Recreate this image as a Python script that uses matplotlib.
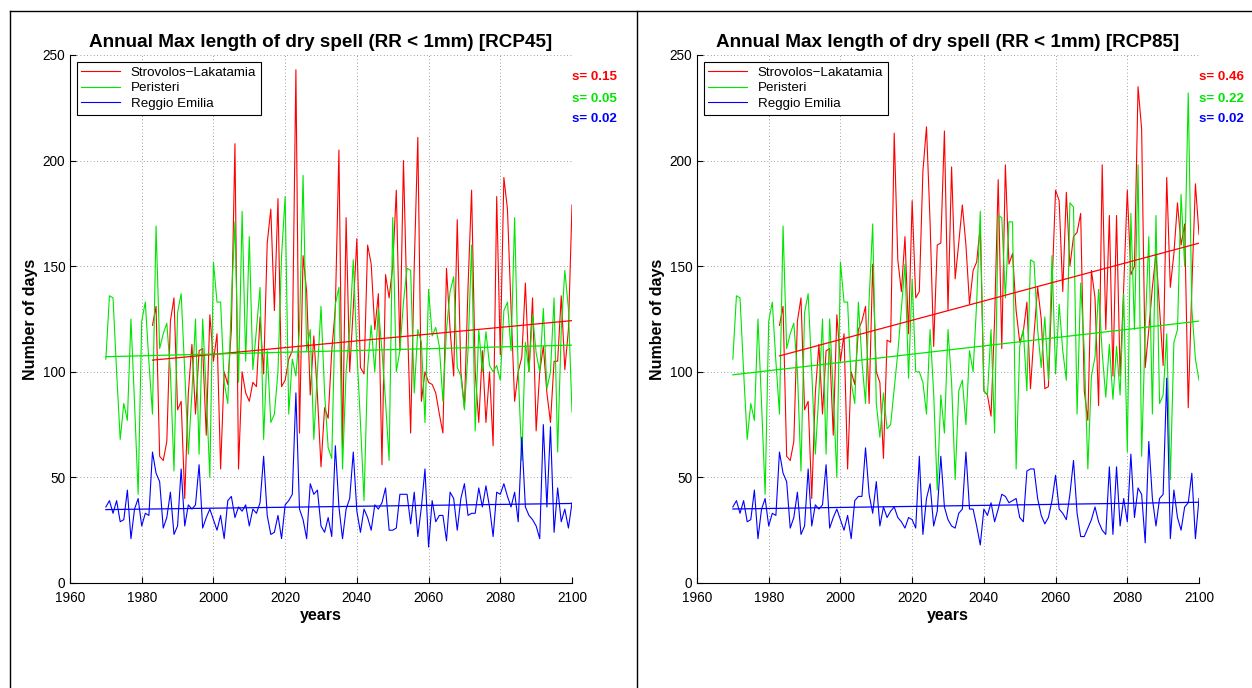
import numpy as np
import matplotlib
matplotlib.use("Agg")
import matplotlib.pyplot as plt
from matplotlib.lines import Line2D

plt.rcParams['font.family'] = ['Liberation Sans', 'DejaVu Sans']

# years
years_hist = np.arange(1970, 2006)
years_fut = np.arange(2006, 2101)
red_start = 1983

# observed/historical part (same in both scenarios)
red_hist = [122, 131, 60, 58, 67, 124, 135, 82, 86, 40,
            90, 113, 80, 110, 111, 70, 127, 105, 118, 54,
            100, 94, 120]
green_hist = [106, 136, 135, 100, 68, 85, 77, 125, 85, 42,
              124, 133, 105, 80, 169, 111, 118, 123, 100, 53,
              128, 137, 100, 61, 90, 125, 61, 125, 90, 50,
              152, 133, 133, 95, 85, 133]
blue_hist = [36, 39, 33, 39, 29, 30, 44, 21, 35, 40,
             27, 33, 32, 62, 52, 48, 26, 31, 43, 23,
             27, 54, 27, 37, 35, 37, 56, 26, 31, 35,
             30, 25, 32, 21, 39, 41]

# RCP45 2006-2100
red45 = [208, 54, 100, 90, 86, 95, 93, 126, 99, 161,
         177, 129, 182, 93, 96, 106, 110, 243, 71, 155,
         138, 89, 117, 89, 55, 83, 78, 110, 130, 205,
         64, 173, 100, 130, 163, 102, 99, 160, 151, 120,
         137, 56, 146, 135, 150, 186, 110, 200, 130, 71,
         150, 211, 86, 100, 95, 94, 90, 80, 71, 149,
         120, 98, 172, 100, 83, 140, 186, 100, 76, 110,
         76, 100, 65, 183, 108, 192, 177, 130, 86, 100,
         107, 142, 100, 135, 72, 100, 112, 90, 76, 105,
         105, 136, 101, 120, 179]
green45 = [171, 95, 176, 105, 164, 101, 120, 140, 68, 110,
           76, 80, 100, 155, 183, 80, 106, 98, 120, 193,
           110, 120, 68, 100, 131, 90, 64, 59, 132, 140,
           54, 100, 120, 153, 110, 76, 39, 102, 122, 100,
           130, 110, 86, 58, 173, 100, 110, 133, 149, 148,
           90, 120, 114, 76, 139, 117, 121, 112, 86, 120,
           138, 145, 102, 98, 82, 110, 160, 72, 120, 100,
           119, 103, 100, 103, 96, 129, 133, 110, 173, 100,
           58, 114, 100, 127, 109, 100, 130, 92, 100, 135,
           62, 120, 148, 130, 81]
blue45 = [31, 36, 34, 37, 27, 35, 33, 38, 60, 32,
          23, 24, 32, 21, 37, 39, 42, 90, 35, 30,
          21, 47, 42, 44, 27, 24, 31, 22, 65, 36,
          21, 35, 40, 62, 34, 24, 35, 31, 25, 37,
          35, 38, 45, 25, 25, 26, 42, 42, 42, 28,
          43, 22, 36, 54, 17, 39, 29, 32, 32, 20,
          43, 40, 25, 40, 47, 32, 33, 33, 45, 36,
          46, 36, 22, 43, 42, 47, 41, 36, 43, 29,
          69, 36, 32, 30, 27, 21, 75, 36, 74, 24,
          45, 29, 35, 26, 38]

# RCP85 2006-2100
red85 = [124, 131, 85, 151, 100, 95, 59, 115, 114, 213,
         153, 138, 164, 118, 181, 135, 138, 195, 216, 171,
         112, 160, 161, 214, 129, 197, 144, 161, 179, 160,
         132, 148, 152, 169, 91, 89, 79, 125, 191, 111,
         198, 151, 156, 129, 114, 119, 133, 92, 118, 140,
         125, 92, 93, 140, 186, 181, 138, 185, 150, 164,
         166, 175, 91, 77, 148, 135, 84, 198, 120, 174,
         98, 174, 98, 140, 186, 146, 150, 235, 215, 102,
         120, 140, 156, 130, 103, 192, 140, 156, 180, 160,
         170, 83, 140, 189, 165]
green85 = [105, 85, 134, 170, 85, 69, 90, 73, 75, 92,
           109, 130, 151, 97, 144, 100, 100, 95, 80, 120,
           90, 44, 89, 71, 120, 95, 49, 91, 96, 75,
           110, 100, 133, 176, 91, 89, 120, 71, 174, 173,
           135, 171, 171, 54, 112, 120, 91, 153, 152, 120,
           102, 126, 96, 155, 99, 132, 110, 96, 180, 178,
           80, 142, 110, 54, 98, 107, 139, 109, 88, 113,
           87, 112, 89, 137, 62, 175, 120, 198, 60, 120,
           164, 80, 174, 85, 89, 118, 49, 114, 120, 184,
           150, 232, 130, 106, 96]
blue85 = [41, 64, 42, 33, 48, 27, 36, 31, 34, 36,
          31, 29, 26, 31, 30, 26, 60, 23, 40, 47,
          27, 34, 60, 36, 30, 27, 26, 33, 35, 62,
          35, 35, 27, 18, 35, 32, 38, 29, 35, 42,
          41, 38, 39, 40, 31, 29, 53, 54, 54, 40,
          32, 28, 31, 39, 51, 35, 33, 30, 42, 58,
          33, 22, 22, 26, 30, 36, 29, 25, 23, 55,
          23, 55, 27, 40, 29, 61, 31, 45, 42, 19,
          67, 40, 27, 40, 42, 97, 21, 44, 31, 25,
          36, 38, 52, 21, 40]

stations = ['Strovolos\u2212Lakatamia', 'Peristeri', 'Reggio Emilia']
colors = ['#ff0000', '#00e600', '#0000ff']
slopes45 = ['s= 0.15', 's= 0.05', 's= 0.02']
slopes85 = ['s= 0.46', 's= 0.22', 's= 0.02']


def draw_panel(ax, red_f, green_f, blue_f, scen, s_txt):
    yrs = np.concatenate([years_hist, years_fut])
    red = np.concatenate([red_hist, red_f])
    green = np.concatenate([green_hist, green_f])
    blue = np.concatenate([blue_hist, blue_f])
    yr_red = yrs[yrs >= red_start]
    series = [(yr_red, red), (yrs, green), (yrs, blue)]

    for (x, y), c, lab in zip(series, colors, stations):
        ax.plot(x, y, color=c, lw=0.8, label=lab)
    # linear trends
    for (x, y), c in zip(series, colors):
        p = np.polyfit(x, y, 1)
        ax.plot(x, np.polyval(p, x), color=c, lw=0.9)

    ax.set_xlim(1960, 2100)
    ax.set_ylim(0, 250)
    ax.set_xticks(np.arange(1960, 2101, 20))
    ax.set_yticks(np.arange(0, 251, 50))
    ax.grid(True, linestyle=(0, (1, 3)), color='0.5', lw=0.6)
    ax.spines['top'].set_visible(False)
    ax.spines['right'].set_visible(False)
    ax.tick_params(direction='in', length=4, labelsize=9.8)
    ax.tick_params(axis='x', pad=6)
    ax.set_title('Annual Max length of dry spell (RR < 1mm) [%s]' % scen,
                 fontsize=13.6, fontweight='bold', pad=6)
    ax.set_xlabel('years', fontsize=11.5, fontweight='bold', labelpad=2)
    ax.set_ylabel('Number of days', fontsize=11.5, fontweight='bold', labelpad=3)
    leg = ax.legend(loc='upper left', fontsize=9.6, fancybox=False,
                    edgecolor='black', framealpha=1, handlelength=2.9,
                    labelspacing=0.25, borderaxespad=0.5, borderpad=0.35)
    leg.get_frame().set_linewidth(0.8)
    for t, c, yy in zip(s_txt, colors, [0.958, 0.917, 0.879]):
        ax.text(1.0, yy, t, transform=ax.transAxes, color=c,
                fontsize=9.6, fontweight='bold', ha='left', va='center')


fig = plt.figure(figsize=(12.52, 6.88), dpi=100)
ax1 = fig.add_axes([70 / 1252, 105 / 688, 502 / 1252, 528 / 688])
ax2 = fig.add_axes([697 / 1252, 105 / 688, 502 / 1252, 528 / 688])
draw_panel(ax1, red45, green45, blue45, 'RCP45', slopes45)
draw_panel(ax2, red85, green85, blue85, 'RCP85', slopes85)

# table-like frame lines
ytop = 1 - 11 / 688
fig.add_artist(Line2D([10 / 1252, 1], [ytop, ytop], color='black', lw=1.0))
fig.add_artist(Line2D([10 / 1252, 10 / 1252], [0, ytop], color='black', lw=1.0))
fig.add_artist(Line2D([637 / 1252, 637 / 1252], [0, ytop], color='black', lw=1.0))

fig.savefig('out.png', dpi=100)
